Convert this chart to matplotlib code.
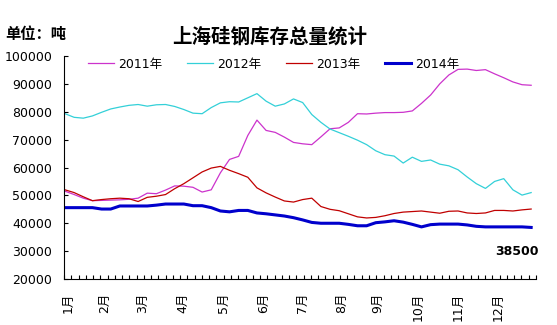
import numpy as np
import matplotlib
matplotlib.use('Agg')
import matplotlib.pyplot as plt

plt.rcParams['font.family'] = ['DejaVu Sans', 'Noto Sans CJK SC']

# weekly stock, tonnes
s2011 = [51500, 50300, 49000, 48100, 48200, 48300, 48400, 48600, 49000, 50800,
         50600, 51900, 53400, 53300, 52900, 51200, 52000, 58100, 62900, 64000,
         71500, 77000, 73300, 72600, 70900, 69000, 68500, 68200, 71000, 73900,
         74200, 76200, 79300, 79200, 79500, 79700, 79700, 79800, 80300, 83000,
         86000, 90000, 93200, 95200, 95300, 94800, 95100, 93600, 92200, 90700,
         89700, 89500]
s2012 = [79300, 78000, 77700, 78500, 79800, 81000, 81700, 82300, 82600, 82000,
         82500, 82600, 81900, 80800, 79500, 79300, 81500, 83200, 83600, 83500,
         85000, 86500, 83800, 82000, 82800, 84600, 83300, 79000, 76200, 73800,
         72500, 71200, 69800, 68200, 66000, 64600, 64100, 61600, 63700, 62200,
         62700, 61200, 60600, 59200, 56600, 54200, 52500, 55000, 56000, 52000,
         50100, 51000]
s2013 = [52000, 51000, 49500, 48100, 48500, 48800, 49000, 48800, 47800, 49300,
         49700, 50300, 52400, 54200, 56300, 58400, 59800, 60400, 59000, 57800,
         56500, 52700, 50900, 49400, 48000, 47600, 48500, 49000, 46000, 45000,
         44500, 43400, 42300, 41900, 42100, 42700, 43500, 44000, 44200, 44400,
         44000, 43600, 44300, 44400, 43700, 43500, 43700, 44600, 44600, 44400,
         44800, 45100]
s2014 = [45600, 45600, 45600, 45600, 45100, 45100, 46200, 46200, 46200, 46200,
         46500, 46900, 46900, 46900, 46300, 46300, 45600, 44400, 44100, 44600,
         44600, 43700, 43400, 43000, 42600, 42000, 41200, 40300, 40000, 40000,
         40000, 39600, 39100, 39100, 40200, 40500, 40900, 40400, 39600, 38700,
         39500, 39700, 39700, 39700, 39400, 38900, 38700, 38700, 38700, 38700,
         38700, 38500]
weeks = np.arange(len(s2011))

month_labels = ['1月', '2月', '3月', '4月', '5月', '6月', '7月', '8月', '9月', '10月', '11月', '12月']
month_pos = [0.33, 4.38, 8.53, 12.9, 17.3, 21.7, 26.0, 30.3, 34.2, 38.6, 43.0, 47.4]

fig = plt.figure(figsize=(5.57, 3.25), dpi=100)
ax = fig.add_axes([0.1149, 0.1415, 0.8474, 0.6862])

ax.plot(weeks, s2011, color='#CC33CC', lw=0.9, label='2011年')
ax.plot(weeks, s2012, color='#33D0D8', lw=0.9, label='2012年')
ax.plot(weeks, s2013, color='#C00000', lw=0.9, label='2013年')
ax.plot(weeks, s2014, color='#0000CC', lw=2.2, label='2014年')

ax.set_xlim(-0.11, 51.53)
ax.set_ylim(20000, 100000)
ax.set_yticks(np.arange(20000, 100001, 10000))
ax.set_xticks(month_pos)
ax.set_xticklabels(month_labels, rotation=90, va='top', fontsize=9)
ax.set_xticks(np.linspace(-0.11, 51.53, 66), minor=True)
ax.tick_params(axis='x', which='both', direction='in', length=3, width=0.8, pad=10, bottom=True)
ax.tick_params(axis='x', which='major', length=0)
ax.tick_params(axis='y', direction='in', length=3, width=0.8, pad=8.5, labelsize=9)

for sp in ['top', 'right']:
    ax.spines[sp].set_visible(False)
for sp in ['left', 'bottom']:
    ax.spines[sp].set_linewidth(0.8)

fig.legend(loc='center', bbox_to_anchor=(0.491, 0.803), ncol=4, frameon=False,
           fontsize=9, handlelength=2.1, handletextpad=0.3, columnspacing=2.0)

fig.text(0.485, 0.888, '上海硅钢库存总量统计', ha='center', va='center',
         fontsize=14, fontweight='bold', family=['Noto Sans CJK SC'])
fig.text(0.009, 0.895, '单位：吨', ha='left', va='center',
         fontsize=11, fontweight='bold', family=['Noto Sans CJK SC'])
fig.text(0.967, 0.226, '38500', ha='right', va='center', fontsize=9, fontweight='bold')

fig.savefig('out.png', dpi=100)
